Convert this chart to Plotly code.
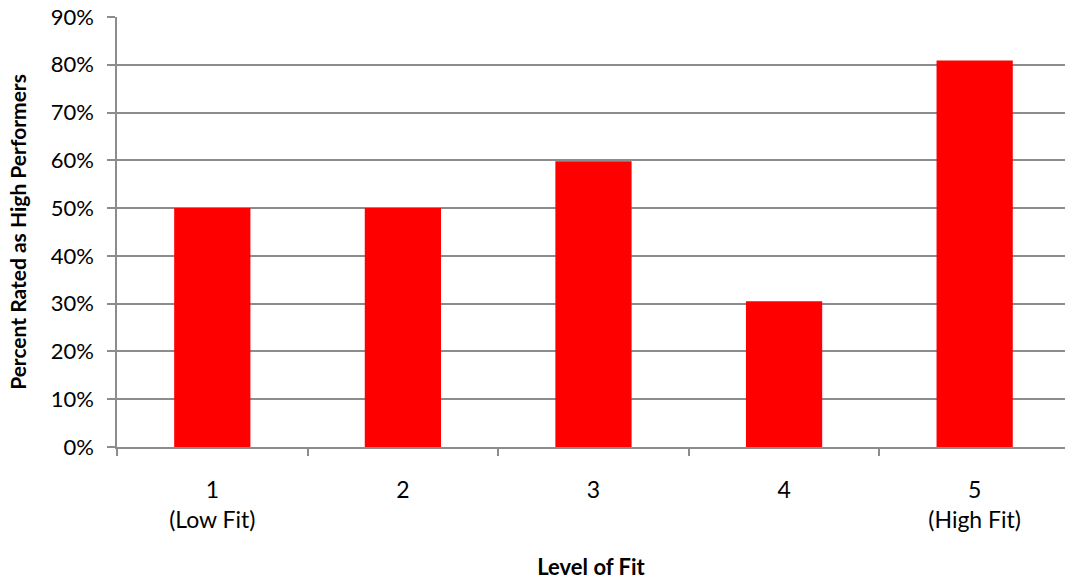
import plotly.graph_objects as go

categories = ["1<br>(Low Fit)", "2", "3", "4", "5<br>(High Fit)"]
values = [0.50, 0.50, 0.598, 0.305, 0.809]
y_ticks = [0, 0.1, 0.2, 0.3, 0.4, 0.5, 0.6, 0.7, 0.8, 0.9]
y_tick_labels = ["0%", "10%", "20%", "30%", "40%", "50%", "60%", "70%", "80%", "90%"]

FONT = "Lato, 'Open Sans', sans-serif"
GRID = "#8c8c8c"

fig = go.Figure(go.Bar(x=categories, y=values, marker=dict(color="#ff0000", line=dict(width=0)), width=0.4))

fig.update_layout(
    width=1065, height=580,
    margin=dict(l=117, r=0, t=17, b=133),
    plot_bgcolor="white", paper_bgcolor="white",
    showlegend=False,
    font=dict(family=FONT, size=22, color="#000000"),
)
fig.update_xaxes(
    type="category", range=[-0.5, 4.474],
    showline=True, linecolor=GRID, linewidth=1.5,
    ticks="outside", tickson="boundaries", ticklen=7, tickcolor=GRID, tickwidth=1.5,
    showgrid=False,
    tickfont=dict(family=FONT, size=23),
    ticklabelstandoff=22,
    title=dict(text="<b>Level of Fit</b>", font=dict(family=FONT, size=22), standoff=27),
)
fig.update_yaxes(
    range=[0, 0.9], tickvals=y_ticks, ticktext=y_tick_labels,
    showgrid=True, gridcolor=GRID, gridwidth=1.5,
    showline=True, linecolor=GRID, linewidth=1.5,
    ticks="outside", ticklen=8, tickcolor=GRID, tickwidth=1.5,
    zeroline=False,
    tickfont=dict(family=FONT, size=22),
    ticklabelstandoff=9,
    title=dict(text="<b>Percent Rated as High Performers</b>", font=dict(family=FONT, size=21), standoff=18),
)

fig.write_html(
    "out.html",
    config={"displayModeBar": False},
    post_script="document.body.style.margin='0';document.body.style.overflow='hidden';",
)
